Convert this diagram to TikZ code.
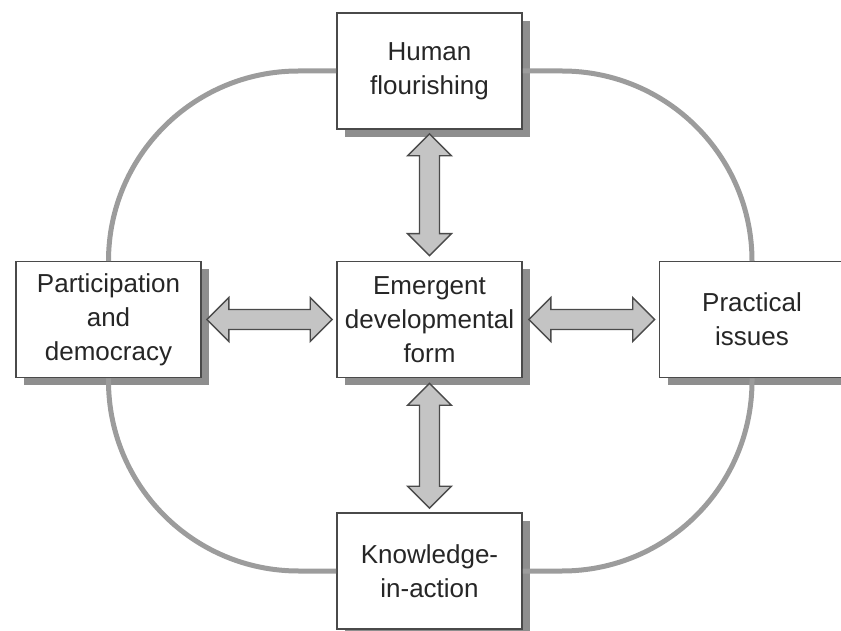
\documentclass[tikz,border=0pt]{standalone}
\usepackage{fontspec}
\setmainfont{Liberation Sans}
\usetikzlibrary{calc,shadows}

\definecolor{boxline}{HTML}{4A4A4A}
\definecolor{loopgray}{HTML}{9C9C9C}
\definecolor{shadowgray}{HTML}{8E8E8E}
\definecolor{arrowgray}{HTML}{C4C4C4}
\definecolor{textgray}{HTML}{262626}

%% block arrow with a head at both ends
\newcommand{\twowayarrow}[2]{%
  \draw[arrowDecorate] (#1)
    -- ($(#1)!22pt!(#2)!22pt!90:(#2)$) -- ($(#1)!22pt!(#2)!10pt!90:(#2)$)
    -- ($(#2)!22pt!(#1)!10pt!-90:(#1)$) -- ($(#2)!22pt!(#1)!22pt!-90:(#1)$)
    -- (#2)
    -- ($(#2)!22pt!(#1)!22pt!90:(#1)$) -- ($(#2)!22pt!(#1)!10pt!90:(#1)$)
    -- ($(#1)!22pt!(#2)!10pt!-90:(#2)$) -- ($(#1)!22pt!(#2)!22pt!-90:(#2)$)
    -- cycle;}

\begin{document}
\begin{tikzpicture}
[x=1pt,y=1pt,
  boxDecorate/.style={shape=rectangle,draw=boxline,line width=1.6pt,fill=white,
    minimum width=185pt,minimum height=116pt,inner sep=0pt,align=center,
    font=\fontsize{26}{34}\selectfont,text=textgray,
    drop shadow={shadow xshift=8pt,shadow yshift=-8pt,fill=shadowgray,opacity=1}},%
  loopDecorate/.style={draw=loopgray,line width=5pt,rounded corners=190pt},%
  arrowDecorate/.style={draw=boxline,line width=1.4pt,fill=arrowgray,line join=miter}]
\useasboundingbox (0,0) rectangle (841,630);
%% boxes
\foreach \nodename/\x/\y/\words in {
  hum/429.5/559/{Human\\flourishing},
  par/108.5/310.5/{Participation\\and\\democracy},
  emg/429.5/310.5/{Emergent\\developmental\\form},
  pra/752/310.5/{Practical\\issues},
  kno/429.5/59/{Knowledge-\\in-action}}
{
  \node (\nodename) at (\x,\y) [boxDecorate] {\words};
}
%% outer loop
\draw[loopDecorate] (par.north) |- (hum.west);
\draw[loopDecorate] (hum.east) -| (pra.north);
\draw[loopDecorate] (pra.south) |- (kno.east);
\draw[loopDecorate] (kno.west) -| (par.south);
%% arrow ends
\coordinate (humtip) at ([yshift=-4pt]hum.south);
\coordinate (emgtop) at ([yshift=5pt]emg.north);
\coordinate (partip) at ([xshift=5pt]par.east);
\coordinate (emgleft) at ([xshift=-4pt]emg.west);
\coordinate (emgright) at ([xshift=6pt]emg.east);
\coordinate (pratip) at ([xshift=-4pt]pra.west);
\coordinate (emgbottom) at ([yshift=-5pt]emg.south);
\coordinate (knotip) at ([yshift=4pt]kno.north);
%% arrows
\foreach \startnode/\endnode in {
  humtip/emgtop, partip/emgleft, emgright/pratip, emgbottom/knotip}
{
  \twowayarrow{\startnode}{\endnode}
}
\end{tikzpicture}
\end{document}
